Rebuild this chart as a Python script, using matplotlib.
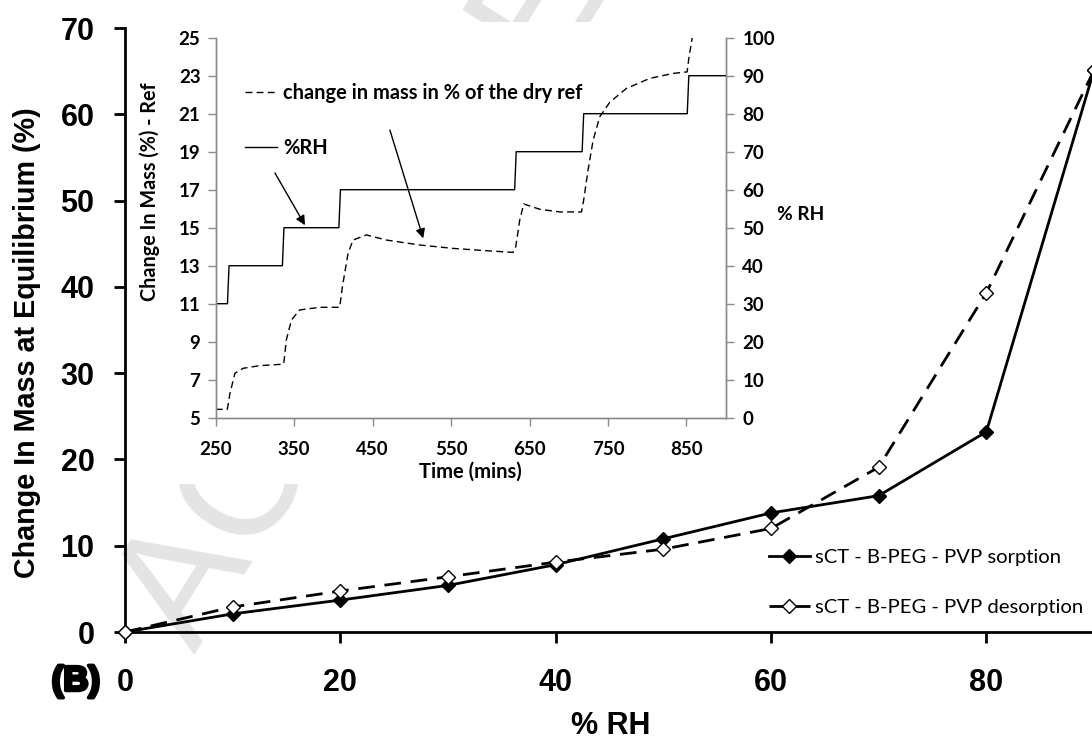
import matplotlib
matplotlib.use("Agg")
import matplotlib.pyplot as plt
import matplotlib.patheffects as pe
from matplotlib.patches import Rectangle

# equilibrium uptake at each humidity step
rh = [0, 10, 20, 30, 40, 50, 60, 70, 80, 90]
sorption = [0, 2.1, 3.7, 5.4, 7.8, 10.8, 13.8, 15.8, 23.2, 65.1]
desorption = [0, 2.9, 4.75, 6.4, 8.1, 9.6, 12.0, 19.1, 39.3, 65.1]

# inset: humidity programme against time
rh_time = [250, 265, 267, 335, 337, 407, 409, 631, 633, 717, 719, 851, 853, 900]
rh_level = [30, 30, 40, 40, 50, 50, 60, 60, 70, 70, 80, 80, 90, 90]

# inset: mass change relative to the dry reference
mass_time = [250, 264.8, 268.2, 274.5, 285, 306, 333.7, 336.7, 340, 346.5, 357,
             382.5, 408, 411.5, 418.7, 425, 442, 467.6, 510, 552.5, 595, 629,
             632.4, 637.5, 642.6, 663, 688.6, 716.2, 719, 724.6, 731, 739.5,
             752.2, 773.5, 803.3, 833, 850.8, 853.3, 857.6, 860]
mass_pct = [5.44, 5.44, 6.28, 7.34, 7.6, 7.74, 7.81, 7.83, 9.09, 10.14, 10.67,
            10.81, 10.81, 11.9, 13.65, 14.35, 14.62, 14.35, 14.09, 13.91, 13.79, 13.7,
            14.0, 15.4, 16.25, 15.97, 15.83, 15.83, 16.46, 18.04, 19.6, 20.84,
            21.6, 22.33, 22.86, 23.12, 23.2, 24.0, 25.05, 25.6]

W, H = 1092, 742


def fx(x):
    return x / W


def fy(y):
    return 1 - y / H


fig = plt.figure(figsize=(W / 100, H / 100), dpi=100)
arial = "Liberation Sans"
calibri = "Lato"

# main isotherm
ax = fig.add_axes([fx(125), fy(632), fx(1094 - 125), fy(28) - fy(632)])
ax.set_facecolor("none")
ax.plot(rh, sorption, color="black", lw=2, marker="D", ms=7.5,
        mfc="black", mec="black", clip_on=False, zorder=3,
        label="sCT - B-PEG - PVP sorption")
ax.plot(rh, desorption, color="black", lw=2, ls=(0, (6, 3.5)), marker="D", ms=7.5,
        mfc="white", mec="black", mew=1, clip_on=False, zorder=3,
        label="sCT - B-PEG - PVP desorption")
ax.set_xlim(0, 90)
ax.set_ylim(0, 70)
ax.set_xticks([0, 20, 40, 60, 80])
ax.set_yticks(range(0, 71, 10))
for s in ["top", "right"]:
    ax.spines[s].set_visible(False)
for s in ["left", "bottom"]:
    ax.spines[s].set_linewidth(2)
ax.tick_params(axis="both", direction="out", length=8, width=2)
ax.tick_params(axis="y", pad=14)
ax.tick_params(axis="x", pad=18)
for lab in ax.get_xticklabels() + ax.get_yticklabels():
    lab.set_fontfamily(arial)
    lab.set_fontweight("bold")
    lab.set_fontsize(22)

leg = ax.legend(loc="upper left", bbox_to_anchor=(fx(769), fy(549)),
                bbox_transform=fig.transFigure, frameon=False,
                prop={"family": calibri, "size": 14.6}, handlelength=2.0,
                handletextpad=0.25, labelspacing=1.6, borderpad=0,
                borderaxespad=0)

fig.text(fx(27), fy(343), "Change In Mass at Equilibrium (%)", rotation=90,
         ha="center", va="center", family=arial, weight="bold", size=20.7)
fig.text(fx(611), fy(726), "% RH", ha="center", va="center",
         family=arial, weight="bold", size=22)
fig.text(fx(76), fy(681), "(B)", ha="center", va="center", family=arial,
         weight="bold", size=25,
         path_effects=[pe.withStroke(linewidth=2.5, foreground="black")])

# faint watermark, hidden behind the inset panel
ax.text(fx(195), fy(655), "ACCEPTED MANUSCRIPT", transform=fig.transFigure,
        rotation=58, rotation_mode="anchor", ha="left", va="baseline",
        family=arial, size=120, color="#e4e4e4", zorder=0.5, clip_on=False)
ax.add_patch(Rectangle((fx(132), fy(484)), fx(790 - 132), fy(22) - fy(484),
                       transform=fig.transFigure, facecolor="white",
                       edgecolor="none", zorder=1, clip_on=False))

# inset: kinetics of one run
gray = "#8a8a8a"
axi = fig.add_axes([fx(215.7), fy(417.7), fx(510), fy(37.7) - fy(417.7)])
axi.plot(mass_time, mass_pct, color="black", lw=1, ls=(0, (5, 3)),
         label="change in mass in % of the dry ref")
axi.set_xlim(250, 900)
axi.set_ylim(5, 25)
axi.set_xticks(range(250, 851, 100))
axi.set_yticks(range(5, 26, 2))
axr = axi.twinx()
axr.plot(rh_time, rh_level, color="black", lw=1, label="%RH")
axr.set_ylim(0, 100)
axr.set_yticks(range(0, 101, 10))

for a in (axi, axr):
    a.spines["top"].set_visible(False)
    for s in ["left", "right", "bottom"]:
        a.spines[s].set_color(gray)
        a.spines[s].set_linewidth(1)
    a.tick_params(axis="both", direction="out", length=6, width=1, color=gray)
axi.tick_params(axis="y", pad=5)
axi.tick_params(axis="x", pad=11)
axr.tick_params(axis="y", pad=6)
for lab in axi.get_xticklabels() + axi.get_yticklabels() + axr.get_yticklabels():
    lab.set_fontfamily(calibri)
    lab.set_fontweight("bold")
    lab.set_fontsize(13.5)

fig.text(fx(150), fy(192), "Change In Mass (%) - Ref", rotation=90,
         ha="center", va="center", family=calibri, weight="bold", size=14.2)
fig.text(fx(777), fy(215), "% RH", ha="left", va="center",
         family=calibri, weight="bold", size=13.8)
fig.text(fx(470), fy(472), "Time (mins)", ha="center", va="center",
         family=calibri, weight="bold", size=14.5)

h1, l1 = axi.get_legend_handles_labels()
h2, l2 = axr.get_legend_handles_labels()
axr.legend(h1 + h2, l1 + l2, loc="upper left", bbox_to_anchor=(fx(245), fy(83)),
           bbox_transform=fig.transFigure, frameon=False,
           prop={"family": calibri, "weight": "bold", "size": 14.4},
           handlelength=1.6, handletextpad=0.3, labelspacing=1.75,
           borderpad=0, borderaxespad=0)

arrow = dict(arrowstyle="-|>", color="black", lw=1, mutation_scale=14,
             shrinkA=0, shrinkB=0)
axi.annotate("", xy=(363.8, 15.13), xytext=(325.5, 17.88), arrowprops=arrow)
axi.annotate("", xy=(514.5, 14.44), xytext=(472, 20.14), arrowprops=arrow)

fig.savefig("out.png", dpi=100)
